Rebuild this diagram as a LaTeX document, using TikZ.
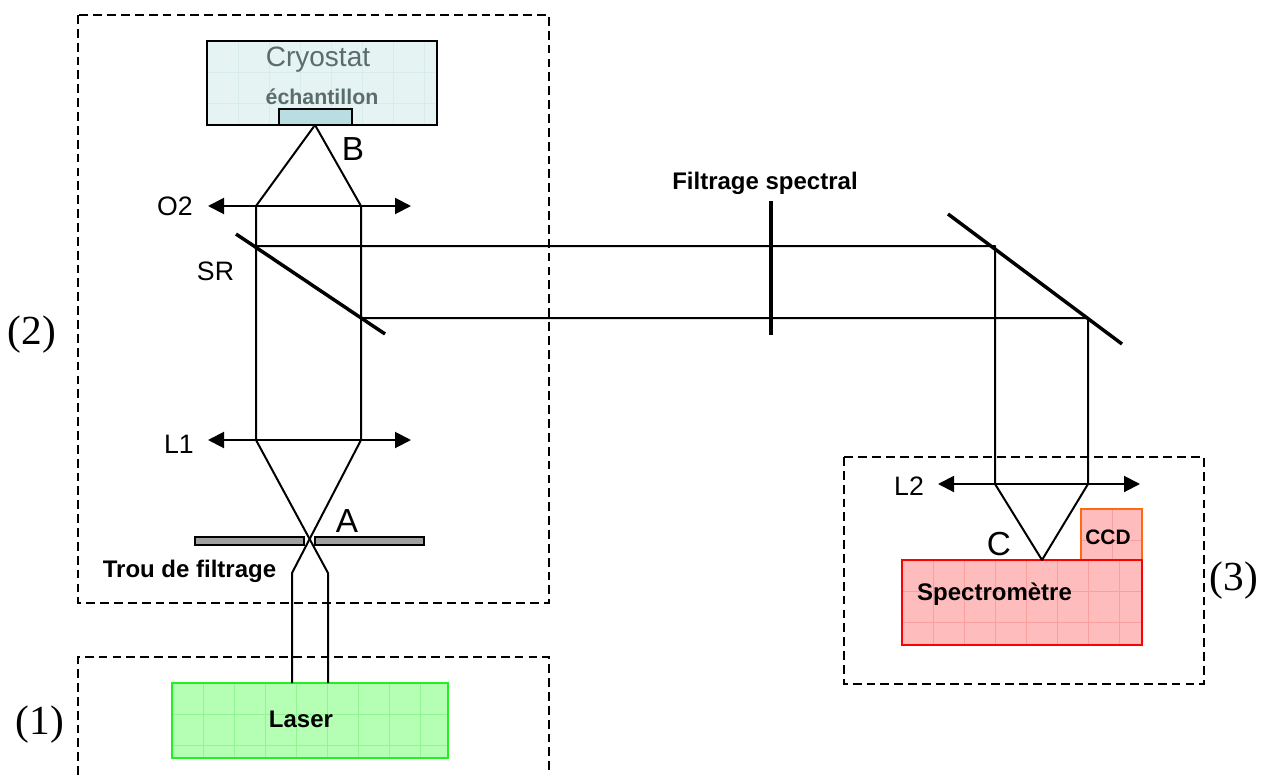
\documentclass[tikz,border=0pt]{standalone}
\usepackage{fontspec}
\setmainfont{Liberation Sans}
\newfontfamily\timesf{Liberation Serif}
\usetikzlibrary{arrows.meta}
\definecolor{cryofill}{HTML}{E6F3F3}
\definecolor{cryogrid}{HTML}{D8ECEC}
\definecolor{samplefill}{HTML}{B9DEE2}
\definecolor{laserfill}{HTML}{B4FFB4}
\definecolor{lasergrid}{HTML}{94F494}
\definecolor{laserline}{HTML}{22F022}
\definecolor{specfill}{HTML}{FFBCBC}
\definecolor{specgrid}{HTML}{F8A0A0}
\definecolor{ccdline}{HTML}{FF6A10}
\definecolor{cryotext}{HTML}{5A6C6C}
\definecolor{platefill}{HTML}{A0A0A0}
\tikzset{
  x=0.75pt,y=-0.75pt,
  ray/.style={line width=1.5pt,line join=round},
  lensline/.style={line width=1.5pt,{Triangle[length=12pt,width=12pt]}-{Triangle[length=12pt,width=12pt]}},
  thickbar/.style={line width=2.6pt},
  dashbox/.style={line width=1.2pt,dash pattern=on 6.6pt off 3.8pt},
  gridline/.style={line width=0.3pt},
  box/.style={draw,line width=1.5pt,inner sep=0pt,outer sep=0pt,anchor=north west},
  lab/.style={font=\fontsize{20pt}{20pt}\selectfont,inner sep=0pt},
  biglab/.style={font=\fontsize{25pt}{25pt}\selectfont,inner sep=0pt},
  blab/.style={font=\fontsize{18pt}{18pt}\selectfont\bfseries,inner sep=0pt},
  numlab/.style={font=\fontsize{31pt}{31pt}\selectfont\timesf,inner sep=0pt},
}
\newcommand{\gridbox}[6]{% x1,y1,x2,y2,colour,step
  \begin{scope}
    \clip (#1,#2) rectangle (#3,#4);
    \foreach \gx in {0,#6,...,300}{\draw[gridline,#5] ({#1+\gx},#2) -- ({#1+\gx},#4);}
    \foreach \gy in {0,#6,...,120}{\draw[gridline,#5] (#1,{#2+\gy}) -- (#3,{#2+\gy});}
  \end{scope}}
\begin{document}
\begin{tikzpicture}
\useasboundingbox (0,0) rectangle (1274,778);
% dashed frames
\draw[dashbox] (78,15) rectangle (549,603);
\draw[dashbox] (78,775) -- (78,657) -- (549,657) -- (549,775);
\draw[dashbox] (844,457) rectangle (1204,684);
% cryostat
\node[box,fill=cryofill,minimum width=230*0.75pt,minimum height=84*0.75pt] (cryo) at (207,41) {};
\gridbox{207}{41}{437}{125}{cryogrid}{31}
\draw[line width=1.5pt] (cryo.north west) rectangle (cryo.south east);
\node[box,fill=samplefill,minimum width=73*0.75pt,minimum height=16*0.75pt] (sample) at (279,109) {};
\node[font=\fontsize{21pt}{21pt}\selectfont,inner sep=0pt,text=cryotext] (cryot) at (318,60) {Cryostat};
\node[blab,font=\fontsize{16pt}{16pt}\selectfont\bfseries,text=cryotext] (ech) at (322,96.5) {échantillon};
% laser
\node[box,draw=laserline,fill=laserfill,minimum width=276*0.75pt,minimum height=75*0.75pt] (laser) at (172,683) {};
\gridbox{172}{683}{448}{758}{lasergrid}{31}
\draw[line width=1.5pt,laserline] (laser.north west) rectangle (laser.south east);
\node[blab] (lasert) at (301,719) {Laser};
% spectrometer and CCD
\node[box,draw=ccdline,fill=specfill,minimum width=61*0.75pt,minimum height=51*0.75pt] (ccd) at (1081,509) {};
\gridbox{1081}{509}{1142}{560}{specgrid}{31}
\draw[line width=1.5pt,ccdline] (ccd.north west) rectangle (ccd.south east);
\node[box,draw=red,fill=specfill,minimum width=240*0.75pt,minimum height=85*0.75pt] (spec) at (902,560) {};
\gridbox{902}{560}{1142}{645}{specgrid}{31}
\draw[line width=1.5pt,red] (spec.north west) rectangle (spec.south east);
\node[blab] (spect) at (994.5,594) {Spectromètre};
\node[blab,font=\fontsize{15.7pt}{15.7pt}\selectfont\bfseries] (ccdt) at (1108,537) {CCD};
% pinhole plates
\node[box,fill=platefill,minimum width=109*0.75pt,minimum height=8*0.75pt] (plateL) at (195,537) {};
\node[box,fill=platefill,minimum width=109*0.75pt,minimum height=8*0.75pt] (plateR) at (315,537) {};
% ray points
\coordinate (B) at (315,125);
\coordinate (o2a) at (208,206); \coordinate (o2b) at (411,206);
\coordinate (o2l) at (256,206); \coordinate (o2r) at (361,206);
\coordinate (l1a) at (208,440); \coordinate (l1b) at (411,440);
\coordinate (l1l) at (256,440); \coordinate (l1r) at (361,440);
\coordinate (kl) at (292,573); \coordinate (kr) at (328,573);
\coordinate (ll) at (292,683); \coordinate (lr) at (328,683);
\coordinate (sr1) at (236,234); \coordinate (sr2) at (385,334);
\coordinate (srhitU) at (256,246); \coordinate (srhitD) at (361,318);
\coordinate (mU) at (995,246); \coordinate (mD) at (1088,318);
\coordinate (m1) at (948,214); \coordinate (m2) at (1122,344);
\coordinate (f1) at (771,201); \coordinate (f2) at (771,335);
\coordinate (l2a) at (938,484); \coordinate (l2b) at (1140,484);
\coordinate (l2l) at (995,484); \coordinate (l2r) at (1088,484);
\coordinate (Cp) at (1042,560);
% rays
\draw[ray] (o2l) -- (B) -- (o2r);
\draw[ray] (o2l) -- (l1l) -- (kr) -- (lr);
\draw[ray] (o2r) -- (l1r) -- (kl) -- (ll);
\draw[ray] (srhitU) -- (mU) -- (l2l) -- (Cp) -- (l2r) -- (mD) -- (srhitD);
% lenses
\draw[lensline] (o2a) -- (o2b);
\draw[lensline] (l1a) -- (l1b);
\draw[lensline] (l2a) -- (l2b);
% mirrors and filter
\draw[thickbar] (sr1) -- (sr2);
\draw[thickbar] (m1) -- (m2);
\draw[thickbar] (f1) -- (f2);
% labels
\node[biglab] (tB) at (353,149) {B};
\node[biglab] (tA) at (347,521) {A};
\node[biglab] (tC) at (999,544) {C};
\node[lab] (tO2) at (175,206) {O2};
\node[lab] (tSR) at (215.5,271) {SR};
\node[lab] (tL1) at (179,444) {L1};
\node[lab] (tL2) at (909,486) {L2};
\node[blab] (ttrou) at (189.5,571) {Trou de filtrage};
\node[blab] (tfilt) at (765,183) {Filtrage spectral};
\node[numlab] (n1) at (40,725) {(1)};
\node[numlab] (n2) at (32,335) {(2)};
\node[numlab] (n3) at (1234,581) {(3)};
\end{tikzpicture}
\end{document}
